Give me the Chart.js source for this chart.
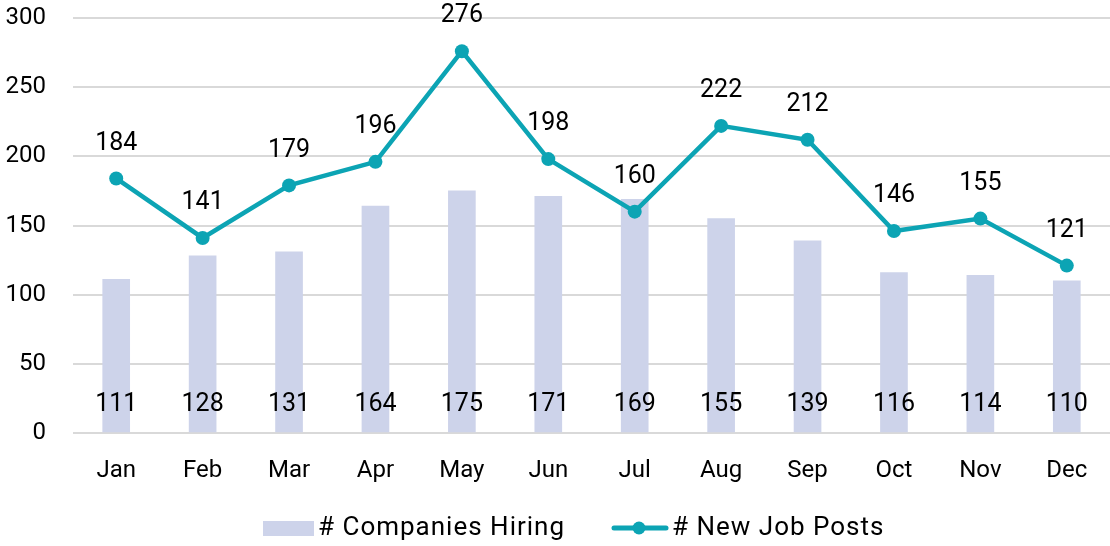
<!DOCTYPE html>
<html>
<head>
<meta charset="utf-8">
<script src="https://cdn.jsdelivr.net/npm/chart.js@4"></script>
<style>
  html, body { margin: 0; padding: 0; background: #fff; }
  #wrap { width: 1110px; height: 546px; }
</style>
</head>
<body>
<div id="wrap"><canvas id="jobsChart" width="1110" height="546"></canvas></div>
<script>
const months = ['Jan', 'Feb', 'Mar', 'Apr', 'May', 'Jun', 'Jul', 'Aug', 'Sep', 'Oct', 'Nov', 'Dec'];
const companiesHiring = [111, 128, 131, 164, 175, 171, 169, 155, 139, 116, 114, 110];
const newJobPosts = [184, 141, 179, 196, 276, 198, 160, 222, 212, 146, 155, 121];
const yTicks = [0, 50, 100, 150, 200, 250, 300];

const barColor = '#CDD3EA';
const lineColor = '#0CA4B4';
const gridColor = '#D9D9D9';
const fontFamily = 'Roboto, "Liberation Sans", sans-serif';

// value labels + legend, drawn straight on the canvas
const labelsPlugin = {
    id: 'valueLabels',
    afterDatasetsDraw(chart) {
        const ctx = chart.ctx;
        const area = chart.chartArea;
        ctx.save();
        ctx.font = '25px ' + fontFamily;
        ctx.fillStyle = '#000';
        ctx.textAlign = 'center';
        ctx.textBaseline = 'middle';

        chart.getDatasetMeta(0).data.forEach((bar, i) => {
            ctx.fillText(companiesHiring[i], bar.x, area.bottom - 28);
        });
        chart.getDatasetMeta(1).data.forEach((pt, i) => {
            ctx.fillText(newJobPosts[i], pt.x, pt.y - 35);
        });

        // legend
        const ly = 528;
        ctx.font = '26px ' + fontFamily;
        ctx.letterSpacing = '1px';
        ctx.textAlign = 'left';
        ctx.fillStyle = barColor;
        ctx.fillRect(263, ly - 7, 51, 15);
        ctx.fillStyle = '#000';
        ctx.fillText('# Companies Hiring', 318, ly);

        ctx.strokeStyle = lineColor;
        ctx.lineWidth = 5;
        ctx.lineCap = 'round';
        ctx.beginPath();
        ctx.moveTo(614, ly);
        ctx.lineTo(666, ly);
        ctx.stroke();
        ctx.fillStyle = lineColor;
        ctx.beginPath();
        ctx.arc(639, ly, 6.5, 0, Math.PI * 2);
        ctx.fill();
        ctx.fillStyle = '#000';
        ctx.fillText('# New Job Posts', 672, ly);
        ctx.restore();
    }
};

new Chart(document.getElementById('jobsChart').getContext('2d'), {
    type: 'bar',
    data: {
        labels: months,
        datasets: [{
            type: 'bar',
            label: '# Companies Hiring',
            data: companiesHiring,
            backgroundColor: barColor,
            barThickness: 27,
            order: 2
        }, {
            type: 'line',
            label: '# New Job Posts',
            data: newJobPosts,
            borderColor: lineColor,
            backgroundColor: lineColor,
            borderWidth: 4.5,
            pointRadius: 7,
            pointHoverRadius: 7,
            pointBackgroundColor: lineColor,
            pointBorderWidth: 0,
            tension: 0,
            clip: false,
            order: 1
        }]
    },
    options: {
        responsive: false,
        animation: false,
        layout: {padding: 0, autoPadding: false},
        plugins: {
            legend: {display: false},
            tooltip: {enabled: false}
        },
        scales: {
            x: {
                grid: {display: true, drawOnChartArea: false, tickColor: 'rgba(0,0,0,0)', tickLength: 24},
                border: {display: false},
                ticks: {color: '#000', font: {family: fontFamily, size: 24}, padding: 0},
                afterFit(scale) {
                    scale.height = 113;
                    scale.paddingLeft = 0;
                    scale.paddingRight = 0;
                }
            },
            y: {
                min: 0,
                max: 300,
                afterBuildTicks(scale) { scale.ticks = yTicks.map(v => ({value: v})); },
                grid: {color: gridColor, lineWidth: 2, drawTicks: false},
                border: {display: false},
                ticks: {color: '#000', font: {family: fontFamily, size: 24}, padding: 27},
                afterFit(scale) {
                    scale.width = 73;
                    scale.paddingTop = 18;
                    scale.paddingBottom = 0;
                }
            }
        }
    },
    plugins: [labelsPlugin]
});
</script>
</body>
</html>
